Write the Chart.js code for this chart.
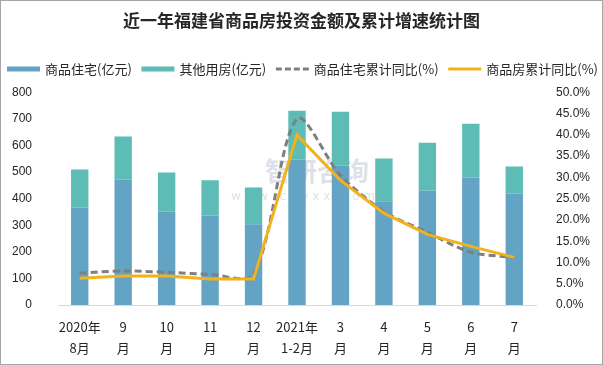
<!DOCTYPE html>
<html>
<head>
<meta charset="utf-8">
<script src="https://cdn.jsdelivr.net/npm/chart.js@4"></script>
<style>
  body { margin: 0; background: #fff; }
  #frame { width: 603px; height: 365px; box-sizing: border-box; border: 1px solid #a6a6a6; background: #fff; }
  #wrap { position: relative; width: 601px; height: 363px; }
</style>
</head>
<body>
<div id="frame"><div id="wrap"><canvas id="investChart"></canvas></div></div>
<script>
// categories (x axis, two lines each)
const categories = [
  ['2020年', '8月'], ['9', '月'], ['10', '月'], ['11', '月'], ['12', '月'],
  ['2021年', '1-2月'], ['3', '月'], ['4', '月'], ['5', '月'], ['6', '月'], ['7', '月']
];
// 商品住宅 investment (亿元)
const residentialInvest = [367, 472, 352, 337, 304, 547, 525, 390, 431, 480, 420];
// 其他用房 investment (亿元)
const otherInvest = [143, 162, 147, 132, 138, 184, 202, 161, 180, 202, 101];
// cumulative yoy growth (%)
const residentialYoy = [7.5, 8.0, 7.7, 7.2, 7.2, 43.8, 30.5, 22.0, 17.1, 12.4, 11.2];
const allYoy = [6.3, 6.8, 6.8, 6.1, 6.1, 40.0, 29.3, 21.6, 16.6, 13.8, 11.2];
// axis ticks
const leftTicks = { min: 0, max: 800, step: 100 };
const rightTicks = { min: 0, max: 50, step: 5 };

const seriesNames = ['商品住宅(亿元)', '其他用房(亿元)', '商品住宅累计同比(%)', '商品房累计同比(%)'];
const colors = {
  residential: '#63a3c3',
  other: '#5dbcb5',
  resLine: '#7f7f7f',
  allLine: '#f2b21c'
};

// legend drawn as one row spread over the full width, like the original
const legendRow = {
  id: 'legendRow',
  afterDraw(chart) {
    const ctx = chart.ctx;
    const items = [
      { text: seriesNames[0], color: colors.residential, width: 5, dash: [] },
      { text: seriesNames[1], color: colors.other, width: 5, dash: [] },
      { text: seriesNames[2], color: colors.resLine, width: 3, dash: [6, 3] },
      { text: seriesNames[3], color: colors.allLine, width: 3, dash: [] }
    ];
    const y = 68, left = 6, right = 597, swatch = 33, gapText = 5;
    ctx.save();
    ctx.font = '13px "Noto Sans CJK SC", sans-serif';
    ctx.textBaseline = 'middle';
    let used = 0;
    items.forEach(function(it) { used += swatch + gapText + ctx.measureText(it.text).width; });
    const gap = (right - left - used) / (items.length - 1);
    let x = left;
    items.forEach(function(it) {
      ctx.beginPath();
      ctx.setLineDash(it.dash);
      ctx.lineWidth = it.width;
      ctx.strokeStyle = it.color;
      ctx.moveTo(x, y);
      ctx.lineTo(x + swatch, y);
      ctx.stroke();
      ctx.setLineDash([]);
      x += swatch + gapText;
      ctx.fillStyle = '#262626';
      ctx.fillText(it.text, x, y);
      x += ctx.measureText(it.text).width + gap;
    });
    ctx.restore();
  }
};

// faint site watermark behind the marks
const watermark = {
  id: 'watermark',
  beforeDatasetsDraw(chart) {
    const ctx = chart.ctx;
    ctx.save();
    ctx.fillStyle = 'rgba(160, 170, 185, 0.35)';
    ctx.font = 'bold 26px "Noto Sans CJK SC", sans-serif';
    ctx.textBaseline = 'middle';
    ctx.fillText('智研咨询', 264, 170);
    ctx.font = '12px "DejaVu Sans", sans-serif';
    ctx.fillText('w w w . c h y x x . c o m', 230, 196);
    ctx.restore();
  }
};

new Chart(document.getElementById('investChart'), {
  type: 'bar',
  data: {
    labels: categories,
    datasets: [
      {
        label: seriesNames[0],
        data: residentialInvest,
        backgroundColor: colors.residential,
        barPercentage: 0.4,
        categoryPercentage: 1,
        yAxisID: 'y',
        order: 2
      },
      {
        label: seriesNames[1],
        data: otherInvest,
        backgroundColor: colors.other,
        barPercentage: 0.4,
        categoryPercentage: 1,
        yAxisID: 'y',
        order: 3
      },
      {
        type: 'line',
        label: seriesNames[2],
        data: residentialYoy,
        borderColor: colors.resLine,
        borderWidth: 3,
        borderDash: [7, 4],
        pointRadius: 0,
        tension: 0.3,
        yAxisID: 'y1',
        order: 1
      },
      {
        type: 'line',
        label: seriesNames[3],
        data: allYoy,
        borderColor: colors.allLine,
        borderWidth: 3,
        pointRadius: 0,
        tension: 0,
        yAxisID: 'y1',
        order: 0
      }
    ]
  },
  options: {
    responsive: true,
    maintainAspectRatio: false,
    animation: false,
    layout: { padding: 0 },
    plugins: {
      legend: { display: false },
      tooltip: { enabled: false },
      title: {
        display: true,
        text: '近一年福建省商品房投资金额及累计增速统计图',
        color: '#262626',
        font: { size: 17, weight: 'bold', family: '"Noto Sans CJK SC", sans-serif' },
        padding: { top: 9, bottom: 62 }
      }
    },
    scales: {
      x: {
        stacked: true,
        grid: { display: false },
        border: { color: '#d9d9d9', width: 1 },
        ticks: {
          color: '#262626',
          font: { size: 13, family: '"Noto Sans CJK SC", sans-serif', lineHeight: 1.65 },
          maxRotation: 0,
          autoSkip: false,
          padding: 3
        },
        afterFit: function(scale) { scale.height = 59; }
      },
      y: {
        stacked: true,
        position: 'left',
        min: leftTicks.min,
        max: leftTicks.max,
        grid: { display: false },
        border: { display: false },
        ticks: {
          stepSize: leftTicks.step,
          color: '#262626',
          font: { size: 12, family: '"Liberation Sans", sans-serif' },
          padding: 18
        },
        afterFit: function(scale) { scale.width = 57; }
      },
      y1: {
        position: 'right',
        min: rightTicks.min,
        max: rightTicks.max,
        grid: { display: false },
        border: { display: false },
        ticks: {
          stepSize: rightTicks.step,
          color: '#262626',
          font: { size: 12, family: '"Liberation Sans", sans-serif' },
          padding: 12,
          callback: function(v) { return v.toFixed(1) + '%'; }
        },
        afterFit: function(scale) { scale.width = 66; }
      }
    }
  },
  plugins: [legendRow, watermark]
});
</script>
</body>
</html>
